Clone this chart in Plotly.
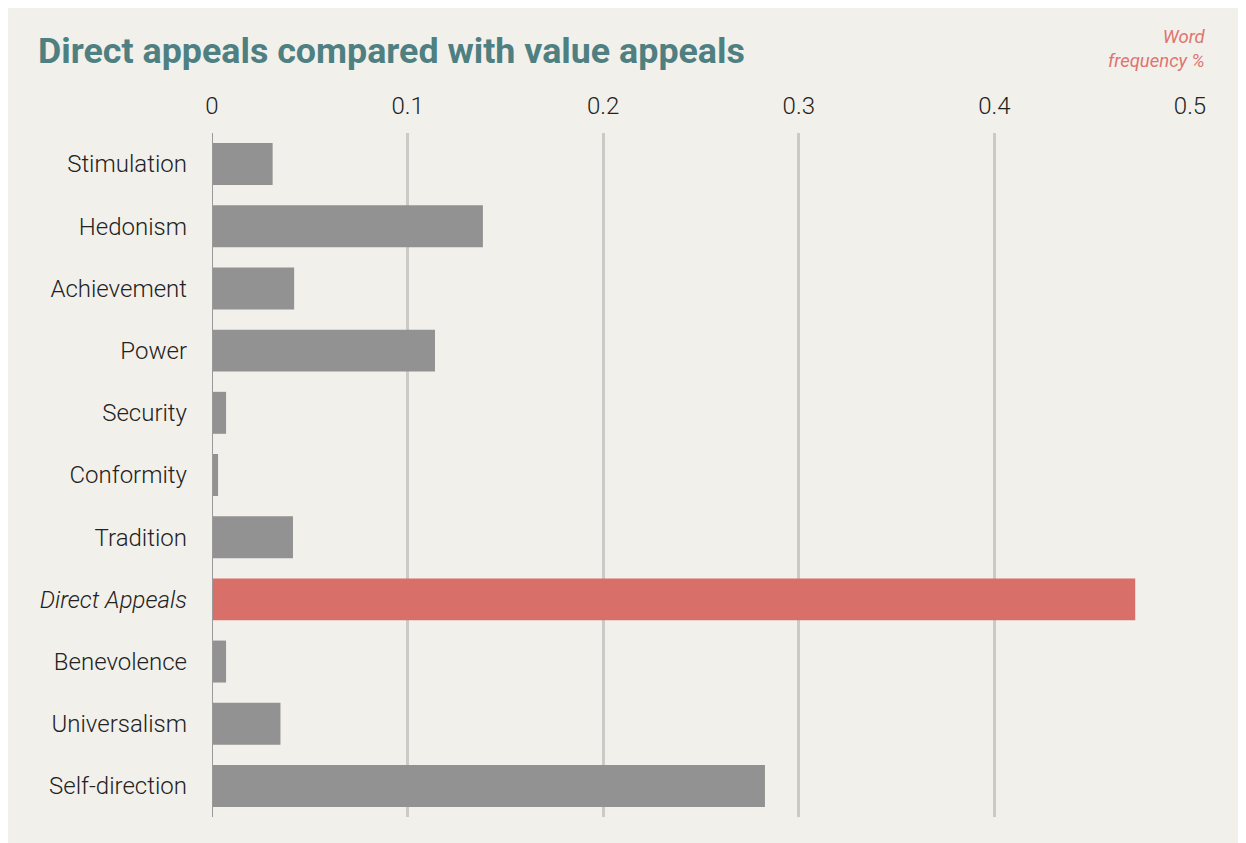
import plotly.graph_objects as go

categories = ["Stimulation", "Hedonism", "Achievement", "Power", "Security", "Conformity",
              "Tradition", "Direct Appeals", "Benevolence", "Universalism", "Self-direction"]
values = [0.031, 0.1385, 0.042, 0.114, 0.0072, 0.0031, 0.0414, 0.472, 0.0072, 0.035, 0.2827]
highlight = "Direct Appeals"
x_ticks = [0, 0.1, 0.2, 0.3, 0.4, 0.5]
x_ticklabels = ["0", "0.1", "0.2", "0.3", "0.4", "0.5"]

GRAY = "#929292"
RED = "#d96f69"
BG = "#f2f0eb"
TEAL = "#4e7f81"

colors = [RED if c == highlight else GRAY for c in categories]
ticktext = [f"<i>{c}</i>" if c == highlight else c for c in categories]

L, T, W, H = 204, 125, 978, 684
BOTTOM = T + H


def fx(px):
    return (px - L) / W


def fy(py):
    return (BOTTOM - py) / H


fig = go.Figure(go.Bar(
    x=values, y=categories, orientation="h",
    marker=dict(color=colors, line=dict(width=0)),
    hoverinfo="x+y",
))

fig.update_layout(
    width=1246, height=843,
    paper_bgcolor=BG, plot_bgcolor=BG,
    margin=dict(l=L, r=1246 - L - W, t=T, b=843 - BOTTOM, autoexpand=False),
    bargap=0.325,
    showlegend=False,
    font=dict(family="Roboto", color="#222222", size=24),
    xaxis=dict(
        side="top", range=[0, 0.5], tickvals=x_ticks, ticktext=x_ticklabels,
        showgrid=True, gridcolor="#cccac6", gridwidth=2.5,
        zeroline=False, showline=False, ticks="",
        ticklabelstandoff=13,
        tickfont=dict(family="Roboto", size=24, color="#222222", weight=300),
        fixedrange=True,
    ),
    yaxis=dict(
        autorange="reversed", tickvals=categories, ticktext=ticktext,
        showgrid=False, zeroline=False, showline=False, ticks="",
        ticklabelstandoff=24,
        tickfont=dict(family="Roboto", size=24, color="#222222", weight=300),
        fixedrange=True,
    ),
    shapes=[
        dict(type="line", xref="x", yref="paper", x0=0, x1=0, y0=0, y1=1,
             line=dict(color="#9a9a9a", width=2), layer="above"),
    ],
    annotations=[
        dict(text="<b>Direct appeals compared with value appeals</b>", xref="paper", yref="paper",
             x=fx(28), y=fy(43), xanchor="left", yanchor="middle", showarrow=False,
             font=dict(family="Roboto", size=35.8, color=TEAL)),
        dict(text="<i>Word<br>frequency %</i>", xref="paper", yref="paper",
             x=fx(1200), y=fy(40.5), xanchor="right", yanchor="middle",
             align="right", showarrow=False,
             font=dict(family="Roboto", size=18.5, color="#dd7570")),
    ],
)

fig.write_html("out.html")
